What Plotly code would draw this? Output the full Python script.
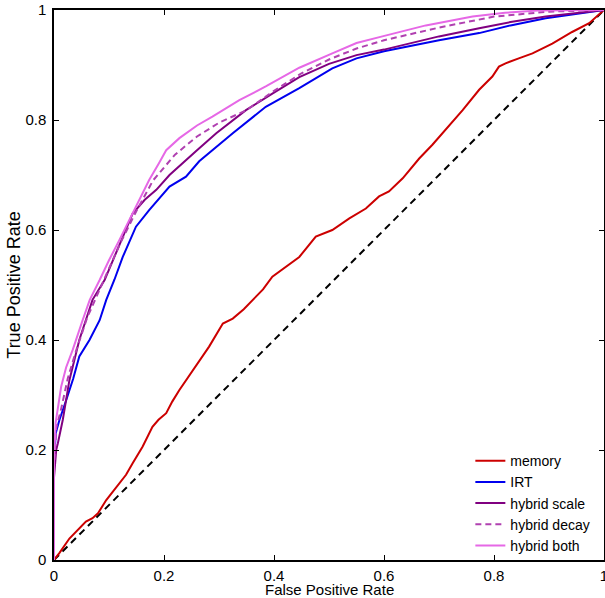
import plotly.graph_objects as go

# ---- data ----
series_names = ["memory", "IRT", "hybrid scale", "hybrid decay", "hybrid both"]

memory_fpr = [0, 0.01, 0.028, 0.045, 0.058, 0.07, 0.08, 0.095, 0.108, 0.119, 0.131, 0.143, 0.161, 0.179,
              0.19, 0.204, 0.215, 0.228, 0.252, 0.282, 0.307, 0.325, 0.345, 0.361, 0.38, 0.397, 0.42, 0.446,
              0.476, 0.506, 0.537, 0.567, 0.591, 0.609, 0.634, 0.664, 0.688, 0.712, 0.743, 0.773, 0.797,
              0.809, 0.821, 0.845, 0.870, 0.906, 0.942, 0.973, 1.0]
memory_tpr = [0, 0.013, 0.039, 0.057, 0.07, 0.076, 0.085, 0.109, 0.125, 0.139, 0.155, 0.176, 0.206, 0.242,
              0.255, 0.267, 0.288, 0.309, 0.345, 0.388, 0.430, 0.439, 0.456, 0.473, 0.492, 0.515, 0.532, 0.551,
              0.588, 0.60, 0.621, 0.639, 0.661, 0.670, 0.694, 0.730, 0.755, 0.782, 0.818, 0.855, 0.879,
              0.897, 0.903, 0.912, 0.921, 0.939, 0.960, 0.976, 1.0]

irt_fpr = [0, 0.0, 0.003, 0.01, 0.022, 0.035, 0.046, 0.0645, 0.083, 0.095, 0.11, 0.125, 0.149, 0.173, 0.21,
           0.24, 0.264, 0.325, 0.385, 0.446, 0.506, 0.55, 0.6, 0.65, 0.7, 0.773, 0.83, 0.894, 0.95, 1]
irt_tpr = [0, 0.17, 0.23, 0.255, 0.29, 0.33, 0.37, 0.40, 0.436, 0.473, 0.51, 0.551, 0.606, 0.636, 0.679,
           0.697, 0.725, 0.776, 0.824, 0.858, 0.894, 0.912, 0.925, 0.935, 0.945, 0.958, 0.972, 0.985, 0.993, 1]

scale_fpr = [0, 0.0, 0.004, 0.007, 0.016, 0.028, 0.046, 0.07, 0.092, 0.12, 0.143, 0.165, 0.186, 0.21, 0.234,
             0.26, 0.295, 0.349, 0.397, 0.446, 0.5, 0.55, 0.6, 0.65, 0.7, 0.773, 0.83, 0.894, 0.95, 1]
scale_tpr = [0, 0.15, 0.2, 0.212, 0.255, 0.327, 0.40, 0.473, 0.509, 0.575, 0.630, 0.655, 0.673, 0.70, 0.722,
             0.745, 0.776, 0.818, 0.848, 0.878, 0.902, 0.918, 0.928, 0.94, 0.952, 0.967, 0.978, 0.988, 0.995, 1]

decay_fpr = [0, 0.0, 0.004, 0.012, 0.025, 0.04, 0.06, 0.08, 0.1, 0.12, 0.15, 0.18, 0.22, 0.26, 0.3, 0.35,
             0.4, 0.45, 0.5, 0.55, 0.6, 0.7, 0.8, 0.9, 1]
decay_tpr = [0, 0.17, 0.24, 0.27, 0.33, 0.38, 0.44, 0.485, 0.53, 0.575, 0.635, 0.69, 0.737, 0.77, 0.795, 0.818,
             0.853, 0.885, 0.91, 0.93, 0.945, 0.968, 0.988, 0.997, 1]

both_fpr = [0, 0.0, 0.003, 0.013, 0.022, 0.034, 0.052, 0.065, 0.083, 0.1, 0.119, 0.143, 0.16, 0.173, 0.19,
            0.204, 0.228, 0.26, 0.288, 0.337, 0.385, 0.446, 0.506, 0.55, 0.597, 0.676, 0.761, 0.82, 0.88, 0.94, 1.0]
both_tpr = [0, 0.18, 0.25, 0.315, 0.35, 0.382, 0.436, 0.473, 0.509, 0.545, 0.582, 0.630, 0.665, 0.691, 0.72,
            0.745, 0.767, 0.79, 0.806, 0.836, 0.861, 0.895, 0.921, 0.94, 0.952, 0.972, 0.988, 0.995, 0.999, 1.0, 1.0]

chance_fpr = [0, 1]
chance_tpr = [0, 1]

x_ticks = [0, 0.2, 0.4, 0.6, 0.8, 1]
x_ticklabels = ["0", "0.2", "0.4", "0.6", "0.8", "1"]
y_ticks = [0, 0.2, 0.4, 0.6, 0.8, 1]
y_ticklabels = ["0", "0.2", "0.4", "0.6", "0.8", "1"]
x_title = "False Positive Rate"
y_title = "True Positive Rate"

# ---- figure ----
fig = go.Figure()
fig.add_trace(go.Scatter(x=chance_fpr, y=chance_tpr, mode="lines", showlegend=False,
                         line=dict(color="black", width=2, dash="7px,5px")))

styles = [
    (memory_fpr, memory_tpr, "#CC0000", "solid"),
    (irt_fpr, irt_tpr, "#0000EE", "solid"),
    (scale_fpr, scale_tpr, "#800080", "solid"),
    (decay_fpr, decay_tpr, "#B040B0", "6px,4px"),
    (both_fpr, both_tpr, "#E668E6", "solid"),
]
for name, (xs, ys, col, dash) in zip(series_names, styles):
    fig.add_trace(go.Scatter(x=xs, y=ys, mode="lines", name=name,
                             line=dict(color=col, width=2, dash=dash)))

font = dict(family="Liberation Sans, Arial, Helvetica, sans-serif", size=15, color="black")
legend_font = dict(family="Liberation Sans, Arial, Helvetica, sans-serif", size=14, color="black")
fig.update_layout(
    width=605, height=598,
    margin=dict(l=54, r=1, t=10, b=38, autoexpand=False),
    paper_bgcolor="white", plot_bgcolor="white",
    font=font,
    legend=dict(x=0.757, y=-0.002, xanchor="left", yanchor="bottom",
                bgcolor="rgba(0,0,0,0)", borderwidth=0, font=legend_font,
                tracegroupgap=0),
)
# x-axis title placed just below the tick labels, as in the reference
fig.add_annotation(text=x_title, xref="paper", yref="paper", x=0.5, y=-0.0545,
                   xanchor="center", yanchor="middle", showarrow=False, font=font)
fig.update_xaxes(range=[0, 1], tickvals=x_ticks, ticktext=x_ticklabels, automargin=True,
                 showgrid=False, zeroline=False, showline=True, linecolor="black", linewidth=1.5,
                 mirror="ticks", ticks="inside", ticklen=5, tickcolor="black", ticklabelstandoff=1,
                 ticklabeloverflow="allow")
fig.update_yaxes(range=[0, 1], tickvals=y_ticks, ticktext=y_ticklabels, automargin=True,
                 showgrid=False, zeroline=False, showline=True, linecolor="black", linewidth=1.5,
                 mirror="ticks", ticks="inside", ticklen=5, tickcolor="black", ticklabelstandoff=3,
                 ticklabeloverflow="allow",
                 title=dict(text=y_title, standoff=0))

fig.write_html("out.html", config={"displayModeBar": False},
               post_script="document.body.style.margin='0';document.body.style.overflow='hidden';")
